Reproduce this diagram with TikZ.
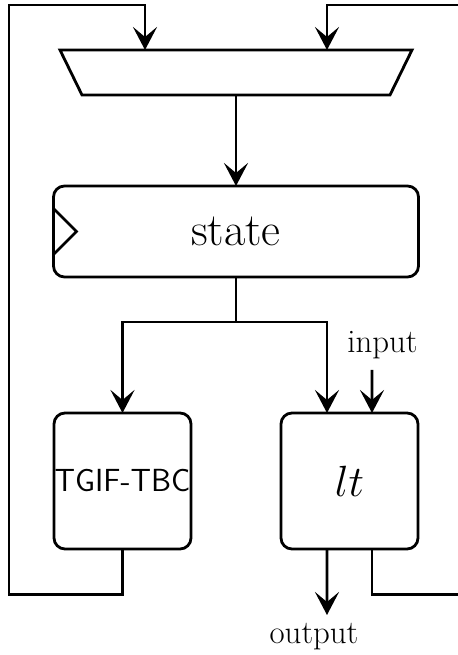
\documentclass[tikz,border=0pt]{standalone}
\usetikzlibrary{arrows.meta,calc}
\begin{document}
\begin{tikzpicture}[
	wire/.style={line width=1.6pt},
	flow/.style={wire, -{Stealth[length=0.46cm,width=0.48cm,inset=0.2cm]}},
	block/.style={draw, line width=1.6pt, rounded corners=0.22cm, inner sep=0pt, outer sep=0pt}]
	\useasboundingbox (0,0) rectangle (9.16,13.1);
	
	% mux
	\node[minimum width=7.04cm, minimum height=0.9cm, inner sep=0pt, outer sep=0pt] (mux) at (4.72,11.65) {};
	
	\draw[wire] (mux.north west) -- (mux.north east) -- ($(mux.south east)+(-0.44,0)$) -- ($(mux.south west)+(0.44,0)$) -- cycle;
	
	\node[block, minimum width=7.3cm, minimum height=1.82cm] (state) at (4.72,8.47) {\fontsize{26.4}{30}\selectfont state};
	
	\draw[wire] ($(state.west)+(0,0.46)$) -- ++(0.46,-0.46) -- ++(-0.46,-0.46);
	
	\node[block, minimum width=2.74cm, minimum height=2.72cm] (tgif) at (2.45,3.48) {\fontsize{18.2}{22}\selectfont\sffamily TGIF-TBC};
	
	\node[block, minimum width=2.74cm, minimum height=2.72cm] (lt) at (6.99,3.48) {\fontsize{26.4}{30}\selectfont $lt$};
	
	\node (input) at (7.65,6.2) {\fontsize{18.7}{22}\selectfont input};
	
	\node (output) at (6.28,0.36) {\fontsize{18.7}{22}\selectfont output};
	
	% wire ends
	\coordinate (split) at (4.72,6.66);
	\coordinate (insrc) at (7.44,5.7);
	\coordinate (outend) at (6.54,0.8);
	\coordinate (fbL) at (0.18,1.21);
	\coordinate (topL) at (0.18,13.0);
	\coordinate (fbR) at (9.5,1.21);
	\coordinate (topR) at (9.5,13.0);
	\coordinate (muxinL) at (2.9,12.1);
	\coordinate (muxinR) at (6.54,12.1);
	
	\draw[flow] (mux.south) -- (state.north);
	
	\draw[wire] (state.south) -- (split);
	
	\draw[flow] (split) -| (tgif.north);
	
	\draw[flow] (split) -| ($(lt.north)+(-0.45,0)$);
	
	\draw[flow] (insrc) -- ($(lt.north)+(0.45,0)$);
	
	\draw[flow] ($(lt.south)+(-0.45,0)$) -- (outend);
	
	% feedback
	\draw[flow] (tgif.south) |- (fbL) -- (topL) -| (muxinL);
	
	\draw[flow] ($(lt.south)+(0.45,0)$) |- (fbR) -- (topR) -| (muxinR);
	
\end{tikzpicture}
\end{document}
